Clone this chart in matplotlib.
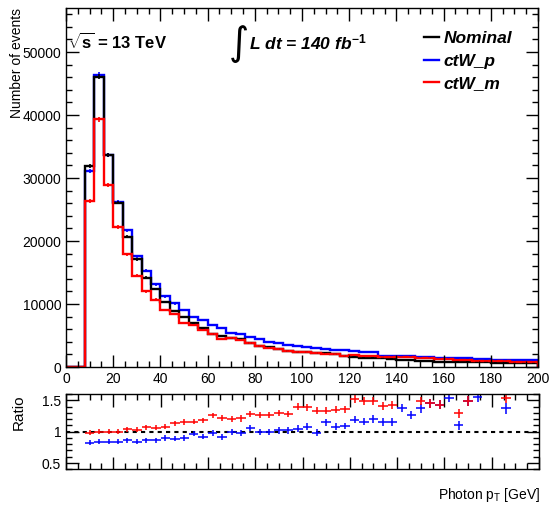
import numpy as np
import matplotlib
matplotlib.use("Agg")
import matplotlib.pyplot as plt
from matplotlib.ticker import MultipleLocator, FuncFormatter
from matplotlib.lines import Line2D

plt.rcParams['font.family'] = ['Liberation Sans', 'DejaVu Sans']
plt.rcParams['mathtext.fontset'] = 'custom'
plt.rcParams['mathtext.rm'] = 'Liberation Sans:bold'
plt.rcParams['mathtext.it'] = 'Liberation Sans:bold:italic'
plt.rcParams['mathtext.bf'] = 'Liberation Sans:bold'
plt.rcParams['mathtext.sf'] = 'Liberation Sans'

# ---- data ----
bin_edges = list(range(0, 204, 4))  # 0..200 GeV, 4 GeV bins

nominal = [0, 0,
           31900, 46100, 33600, 26100, 20700, 17100, 14200, 12400, 10300, 8900,
           8000, 7000, 6200, 5300, 4900, 4650, 4450, 3800, 3400, 3100,
           2850, 2500, 2350, 2330, 2220, 2170, 2060, 1700, 1600, 1400,
           1500, 1380, 1270, 1110, 1110, 1010, 1000, 850, 850, 850,
           750, 750, 750, 650, 650, 640, 620, 620]

ctw_p = [0, 0,
         31100, 46400, 33700, 26200, 21700, 17600, 15300, 13100, 11200, 10100,
         9100, 8000, 7500, 6700, 6200, 5350, 5250, 4700, 4450, 4000,
         3800, 3550, 3400, 3250, 3000, 2850, 2700, 2700, 2600, 2330,
         2330, 1800, 1800, 1700, 1700, 1550, 1550, 1500, 1450, 1400,
         1400, 1300, 1200, 1150, 1150, 1150, 1120, 1120]

ctw_m = [0, 0,
         26400, 39300, 28900, 22200, 17900, 14500, 12000, 10700, 9100, 8400,
         7000, 6700, 5800, 5250, 4450, 4650, 4250, 3800, 3400, 3000,
         2850, 2500, 2430, 2330, 2220, 2080, 2060, 1800, 1900, 1800,
         1800, 1640, 1530, 1530, 1530, 1380, 1380, 1270, 1270, 1110,
         1110, 1010, 1010, 900, 900, 850, 850, 850]

# ratio points, bins 8-200 (48 bins)
nan = np.nan
ratio_upper = [0.98, 1.00, 1.00, 1.00, 1.04, 1.03, 1.07, 1.06, 1.08, 1.13,
               1.15, 1.16, 1.18, 1.26, 1.22, 1.20, 1.21, 1.28, 1.26, 1.26,
               1.30, 1.28, 1.40, 1.39, 1.33, 1.33, 1.35, 1.36, 1.52, 1.49,
               1.49, 1.41, 1.43, nan, nan, 1.49, 1.45, 1.43, nan, 1.29,
               1.49, nan, nan, nan, 1.54, nan, nan, nan]
ratio_lower = [0.82, 0.84, 0.84, 0.84, 0.86, 0.84, 0.86, 0.86, 0.90, 0.89,
               0.90, 0.97, 0.92, 0.98, 0.91, 1.00, 0.98, 1.06, 1.00, 1.00,
               1.02, 1.02, 1.05, 1.08, 0.98, 1.15, 1.08, 1.09, 1.19, 1.16,
               1.20, 1.15, 1.16, 1.38, 1.26, 1.37, 1.45, 1.43, 1.54, 1.10,
               1.49, 1.56, nan, nan, 1.37, nan, nan, nan]
ratio_err = [0.04, 0.04, 0.04, 0.04, 0.04, 0.04, 0.04, 0.04, 0.045, 0.045,
             0.045, 0.045, 0.045, 0.045, 0.05, 0.05, 0.05, 0.05, 0.05, 0.05,
             0.05, 0.05, 0.055, 0.055, 0.055, 0.055, 0.055, 0.055, 0.06, 0.06,
             0.06, 0.065, 0.065, 0.065, 0.065, 0.07, 0.07, 0.07, 0.075, 0.075,
             0.08, 0.08, 0.085, 0.085, 0.085, 0.085, 0.085, 0.085]

edges = np.array(bin_edges, dtype=float)
centers = 0.5 * (edges[:-1] + edges[1:])
halfw = 0.5 * (edges[1:] - edges[:-1])

W, H = 551, 511
fig = plt.figure(figsize=(W / 100, H / 100), dpi=100)

def fx(px):
    return px / W

def fy(py):
    return 1 - py / H

ax = fig.add_axes([fx(66), fy(367), fx(538) - fx(66), fy(8) - fy(367)])
axr = fig.add_axes([fx(66), fy(469.3), fx(539) - fx(66), fy(394) - fy(469.3)])

series = {'Nominal': (nominal, 'black'),
          'ctW_p': (ctw_p, '#0000ff'),
          'ctW_m': (ctw_m, '#ff0000')}
for lab in ['ctW_p', 'Nominal', 'ctW_m']:
    vals, col = series[lab]
    v = np.array(vals, dtype=float)
    ax.stairs(v, edges, color=col, lw=1.7, label=lab)
    m = v > 0
    ax.errorbar(centers[m], v[m], yerr=np.sqrt(v[m]) * 1.8, xerr=0.7,
                fmt='none', ecolor=col, elinewidth=1.2, capsize=0)

ax.set_xlim(0, 200)
ax.set_ylim(0, 57000)
ax.xaxis.set_major_locator(MultipleLocator(20))
ax.xaxis.set_minor_locator(MultipleLocator(5))
ax.yaxis.set_major_locator(MultipleLocator(10000))
ax.yaxis.set_minor_locator(MultipleLocator(2000))
for a in (ax, axr):
    a.tick_params(which='both', direction='in', top=True, right=True, labelsize=10)
    a.tick_params(which='major', length=9, width=1)
    a.tick_params(which='minor', length=4.5, width=1)
    for s in a.spines.values():
        s.set_linewidth(1.0)

ax.set_ylabel('Number of events', fontsize=10, loc='top')
ax.yaxis.set_label_coords(-0.088, 1.0)

# legend
order = ['Nominal', 'ctW_p', 'ctW_m']
leg_handles = [Line2D([], [], color=series[k][1], lw=1.7) for k in order]
ax.legend(leg_handles, order, loc='upper left', bbox_to_anchor=(fx(424), fy(31)),
          bbox_transform=fig.transFigure, frameon=False,
          handlelength=0.85, handletextpad=0.3, labelspacing=0.42,
          prop={'family': 'Liberation Sans', 'weight': 'bold', 'style': 'italic', 'size': 12.5},
          borderaxespad=0, borderpad=0)

fig.text(fx(68), fy(49), r'$\sqrt{\mathrm{s}}$ = 13 TeV', fontsize=12, fontweight='bold',
         ha='left', va='baseline')
fig.text(fx(229), fy(55), '\u222b', fontsize=28, family='DejaVu Sans', ha='left', va='baseline')
fig.text(fx(249), fy(49), r'L dt = 140 fb$^{\mathit{-1}}$', fontsize=12.5,
         fontweight='bold', style='italic', ha='left', va='baseline')

# ratio panel
axr.axhline(1.0, color='black', lw=1.5, ls=(0, (2, 2)))
ru = np.array(ratio_upper, dtype=float)
rl = np.array(ratio_lower, dtype=float)
re = np.array(ratio_err, dtype=float)
c = centers[2:]
hw = halfw[2:]
axr.errorbar(c, rl, yerr=re, xerr=hw, fmt='none', ecolor='#0000ff', elinewidth=1.1, capsize=0)
axr.errorbar(c, ru, yerr=re, xerr=hw, fmt='none', ecolor='#ff0000', elinewidth=1.1, capsize=0)
axr.set_xlim(0, 200)
axr.set_ylim(0.4, 1.6)
axr.xaxis.set_major_locator(MultipleLocator(20))
axr.xaxis.set_minor_locator(MultipleLocator(5))
axr.yaxis.set_major_locator(MultipleLocator(0.5))
axr.yaxis.set_minor_locator(MultipleLocator(0.1))
axr.yaxis.set_major_formatter(FuncFormatter(lambda v, p: '%g' % v))
axr.tick_params(axis='x', labelbottom=False)
axr.set_ylabel('Ratio', fontsize=11, loc='top')
axr.yaxis.set_label_coords(-0.085, 1.0)

fig.text(fx(540), fy(499), r'Photon p$_{\mathsf{T}}$ [GeV]', fontsize=10, ha='right', va='baseline')

fig.savefig('out.png', dpi=100)
